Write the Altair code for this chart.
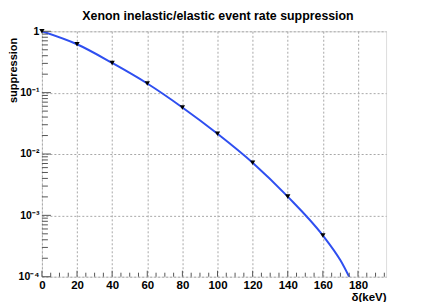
import altair as alt
import pandas as pd
import math

# ---- data ----
delta_pts = [0, 20, 40, 60, 80, 100, 120, 140, 160]
supp_pts = [1.0, 0.615, 0.305, 0.141, 0.0574, 0.0214, 0.00722, 0.00202, 0.00047]

delta_line = [0, 20, 40, 60, 80, 100, 120, 140, 160, 170, 180]
supp_line = [1.0, 0.615, 0.305, 0.141, 0.0574, 0.0214, 0.00722, 0.00202, 0.00047, 0.000185, 0.00005]

x_major = [0, 20, 40, 60, 80, 100, 120, 140, 160, 180]
x_minor = [v for v in range(0, 200, 5) if v % 20 != 0]
y_major = [1.0, 0.1, 0.01, 0.001, 0.0001]
y_labels = ["1", "10⁻¹", "10⁻²", "10⁻³", "10⁻⁴"]
y_minor = [m * d for d in [0.0001, 0.001, 0.01, 0.1] for m in range(2, 10)]

W, H = 345, 246
FONT = "Liberation Sans"
GRID = "#a8a8a8"

pts = pd.DataFrame({"d": delta_pts, "s": supp_pts})
line = pd.DataFrame({"d": delta_line, "s": supp_line})

xscale = alt.Scale(domain=[0, 196], nice=False, zero=False)
yscale = alt.Scale(type="log", domain=[0.0001, 1], nice=False)

expr = "round(log(datum.value)/LN10)"
label_expr = ""
for v, lab in zip(y_major, y_labels):
    e = int(round(math.log10(v)))
    label_expr += f"{expr} == {e} ? '{lab}' : "
label_expr += "''"

xaxis = alt.Axis(values=x_major, grid=True, gridColor=GRID, gridDash=[2, 2], gridWidth=1,
                 ticks=False, domain=False, labelFont=FONT, labelFontWeight="bold",
                 labelFontSize=11.5, labelColor="black", labelPadding=3, labelFlush=False,
                 labelOverlap=False, labelBound=False,
                 title="δ(keV)", titleFont=FONT, titleFontWeight="bold", titleFontSize=11.5,
                 titleAnchor="end", titleAlign="right", titleX=W, titleY=24,
                 titleBaseline="alphabetic")
yaxis = alt.Axis(values=y_major, grid=True, gridColor=GRID, gridDash=[2, 2], gridWidth=1,
                 ticks=False, domain=False, labelFont=FONT, labelFontWeight="bold",
                 labelFontSize=10.5, labelColor="black", labelPadding=3, labelExpr=label_expr,
                 labelFlush=False, labelOverlap=False,
                 title="suppression", titleFont=FONT, titleFontWeight="bold", titleFontSize=11,
                 titleAngle=-90, titleAlign="right", titleBaseline="alphabetic",
                 titleX=-25, titleY=6)

X = alt.X("d:Q", scale=xscale, axis=xaxis)
Y = alt.Y("s:Q", scale=yscale, axis=yaxis)

base_line = alt.Chart(line).mark_line(color="#2f4ff0", strokeWidth=2, clip=True,
                                      interpolate="monotone").encode(x=X, y=Y)
markers = alt.Chart(pts).mark_point(shape="triangle-down", filled=True, color="black",
                                    size=28, opacity=1).encode(x=X, y=Y)

xt_major = alt.Chart(pd.DataFrame({"d": x_major})).mark_rule(color="#555", strokeWidth=1).encode(
    x=X, y=alt.value(H), y2=alt.value(H - 6))
xt_minor = alt.Chart(pd.DataFrame({"d": x_minor})).mark_rule(color="#555", strokeWidth=1).encode(
    x=X, y=alt.value(H), y2=alt.value(H - 4))
yt_major = alt.Chart(pd.DataFrame({"s": y_major})).mark_rule(color="#555", strokeWidth=1).encode(
    y=Y, x=alt.value(0), x2=alt.value(9))
yt_minor = alt.Chart(pd.DataFrame({"s": y_minor})).mark_rule(color="#555", strokeWidth=1).encode(
    y=Y, x=alt.value(0), x2=alt.value(6))

chart = alt.layer(base_line, xt_major, xt_minor, yt_major, yt_minor, markers).properties(
    width=W, height=H,
    autosize=alt.AutoSizeParams(type="none"),
    padding={"left": 34, "top": 23, "right": 35, "bottom": 25},
    title=alt.TitleParams("Xenon inelastic/elastic event rate suppression", font=FONT,
                          fontSize=12.4, fontWeight="bold", color="black", anchor="middle",
                          dx=4, offset=4),
).configure_view(stroke="#4a4a4a", strokeWidth=1.2).configure(background="white")

chart.save("out.html", embed_options={"renderer": "svg", "actions": False})
